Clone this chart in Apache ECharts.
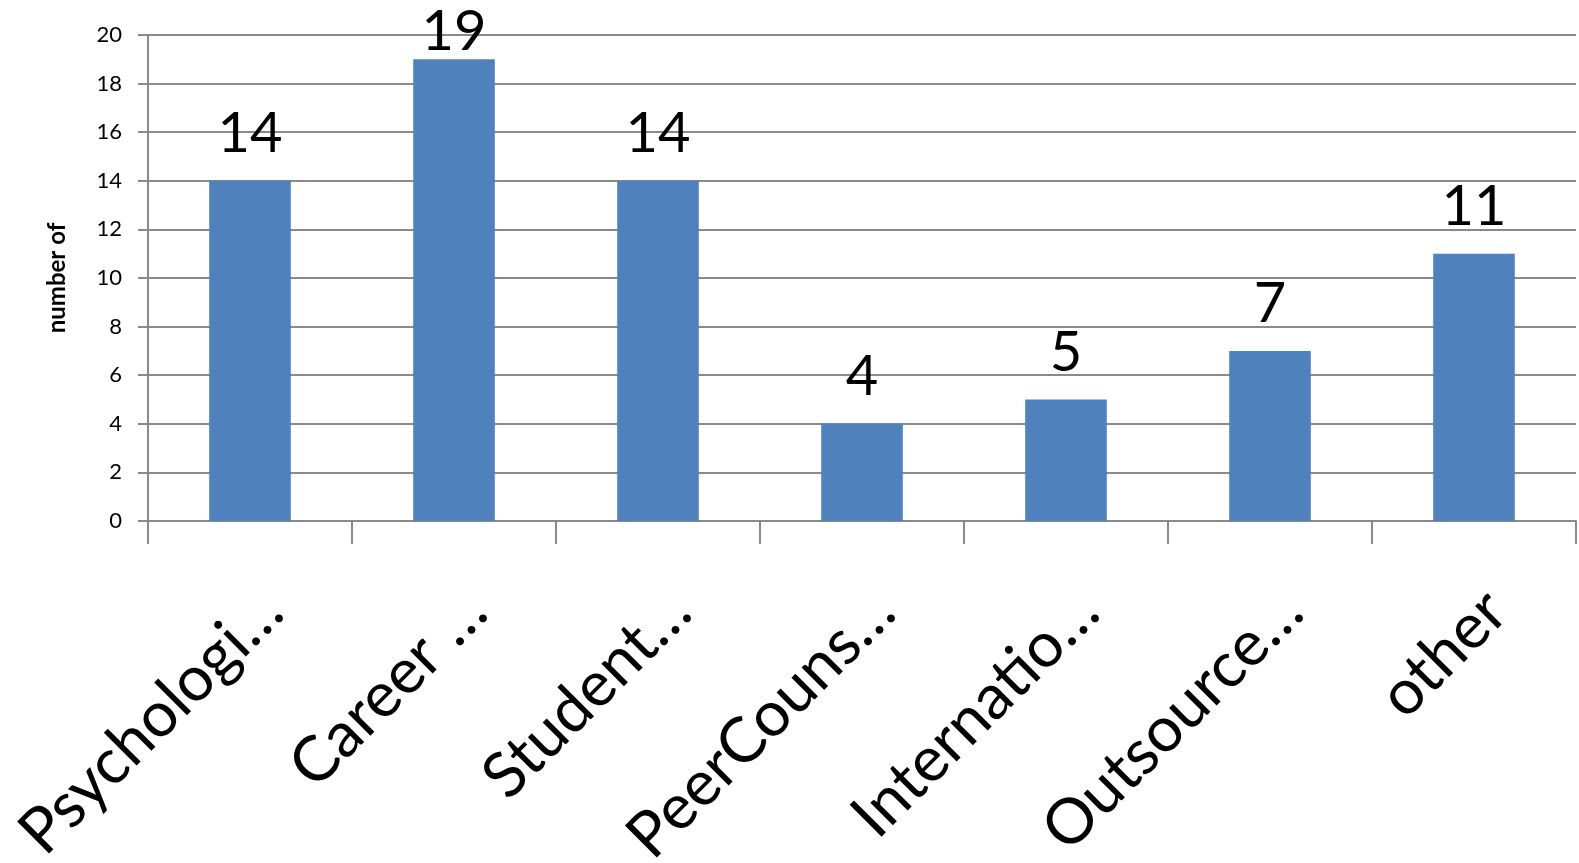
<!DOCTYPE html>
<html>
<head>
<meta charset="utf-8">
<script src="https://cdn.jsdelivr.net/npm/echarts@6/dist/echarts.min.js"></script>
<style>
  html, body { margin: 0; padding: 0; background: #fff; }
  #main { width: 1579px; height: 863px; }
</style>
</head>
<body>
<div id="main"></div>
<script>
// 分类和数值
var categories = ["Psychologi…", "Career …", "Student…", "PeerCouns…", "Internatio…", "Outsource…", "other"];
var counts = [14, 19, 14, 4, 5, 7, 11];
var yTicks = { min: 0, max: 20, interval: 2 };

var lineColor = "#8a8a8a";

var myChart = echarts.init(document.getElementById("main"));
var option = {
  animation: false,
  textStyle: { fontFamily: "Lato" },
  grid: {
    left: 148,
    right: 3,
    top: 35,
    bottom: 342,
    outerBoundsMode: "none"
  },
  xAxis: {
    type: "category",
    data: categories,
    axisLine: { lineStyle: { color: lineColor, width: 2 } },
    axisTick: { show: true, length: 23, lineStyle: { color: lineColor, width: 2 } },
    axisLabel: {
      interval: 0,
      rotate: 45,
      margin: 58,
      fontSize: 63,
      color: "#000",
      verticalAlign: "top",
      fontFamily: "Lato"
    }
  },
  yAxis: {
    type: "value",
    min: yTicks.min,
    max: yTicks.max,
    interval: yTicks.interval,
    name: "number of",
    nameLocation: "middle",
    nameGap: 79,
    nameTextStyle: { fontSize: 24, fontWeight: "bold", color: "#000" },
    axisLine: { show: true, lineStyle: { color: lineColor, width: 2 } },
    axisTick: { show: true, length: 10, lineStyle: { color: lineColor, width: 2 } },
    axisLabel: { fontSize: 22, color: "#000", margin: 26 },
    splitLine: { lineStyle: { color: lineColor, width: 2 } }
  },
  series: [
    {
      name: "number of",
      type: "bar",
      data: counts,
      barWidth: "40%",
      itemStyle: { color: "#4f81bd" },
      label: {
        show: true,
        position: "top",
        distance: 19,
        fontSize: 56,
        color: "#000"
      },
      // 标签超出画布顶部时往下挪
      labelLayout: function (p) {
        var r = p.labelRect;
        if (r.y < 0) {
          return {
            x: r.x + r.width / 2,
            y: r.height - 52,
            align: "center",
            verticalAlign: "top"
          };
        }
      }
    }
  ]
};
myChart.setOption(option);
</script>
</body>
</html>
